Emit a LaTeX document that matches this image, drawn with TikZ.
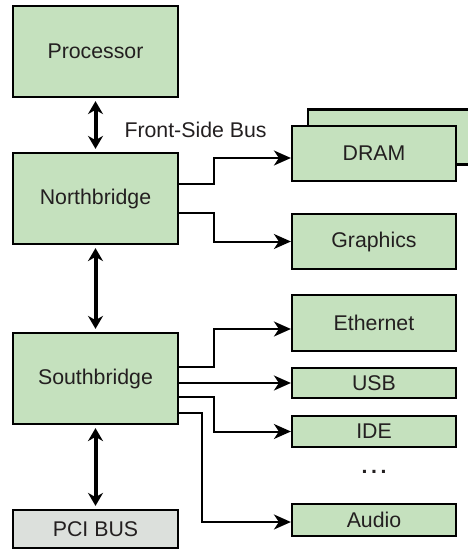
\documentclass[tikz,border=0pt]{standalone}
\usepackage{fontspec}
\setmainfont{Liberation Sans}
\usepackage{xcolor}
\usetikzlibrary{arrows.meta,calc}
\definecolor{boxgreen}{RGB}{197,225,190}
\definecolor{busgray}{RGB}{220,224,220}
\definecolor{txtgray}{RGB}{35,31,32}

\begin{document}
\begin{tikzpicture}[x=1pt,y=1pt,yscale=-1,xscale=1,
  box/.style={draw=black,line width=2.2pt,fill=boxgreen,text=txtgray,inner sep=0pt,font=\fontsize{21.3}{25}\selectfont},
  bigbox/.style={box,minimum width=165pt,minimum height=91pt},
  devbox/.style={box,minimum width=164pt},
  link/.style={line width=2pt,-{Stealth[length=17pt,width=15pt,inset=5pt]}},
  bus/.style={line width=4pt,{Stealth[length=13pt,width=15pt]}-{Stealth[length=13pt,width=15pt]},shorten <=3pt,shorten >=3pt}]
\useasboundingbox (0,0) rectangle (468,551);

%Shape: left column
\node[bigbox] (cpu) at (95.5,51.5) {Processor};
\node[bigbox] (nb) at (95.5,198.5) {Northbridge};
\node[bigbox] (sb) at (95.5,378.5) {Southbridge};
\node[bigbox,fill=busgray,minimum height=38pt] (pci) at (95.5,529) {PCI BUS};

%Shape: right column
\node[devbox,minimum height=55pt] (dramback) at (390,137) {};
\node[devbox,minimum height=55pt] (dram) at (374,153.5) {DRAM};
\node[devbox,minimum height=55pt] (gfx) at (374,241.5) {Graphics};
\node[devbox,minimum height=56pt] (eth) at (374,323) {Ethernet};
\node[devbox,minimum height=30pt] (usb) at (374,383) {USB};
\node[devbox,minimum height=31pt] (ide) at (374,431.5) {IDE};
\node[text=txtgray,font=\fontsize{21.3}{25}\bfseries] (dots) at (374,472) {.\,.\,.};
\node[devbox,minimum height=32pt] (audio) at (374,520) {Audio};

% Text Node
\node[anchor=west,text=txtgray,font=\fontsize{21.3}{25}\selectfont] (fsb) at (121,129.5) {Front-Side Bus};

%Straight Lines: buses
\draw[bus] (cpu.south) -- (nb.north);
\draw[bus] (nb.south) -- (sb.north);
\draw[bus] (sb.south) -- (pci.north);

%Straight Lines: links
\draw[link] ($(nb.east)+(0,-14.5)$) -- ++(35,0) |- ($(dram.west)+(0,4.5)$);
\draw[link] ($(nb.east)+(0,14.5)$) -- ++(35,0) |- (gfx.west);
\draw[link] ($(sb.east)+(0,-11.5)$) -- ++(35,0) |- ($(eth.west)+(0,6)$);
\draw[link] (sb.east |- usb.west) -- (usb.west);
\draw[link] ($(sb.east)+(0,18.5)$) -- ++(35,0) |- (ide.west);
\draw[link] ($(sb.east)+(0,34.5)$) -- ++(23,0) |- ($(audio.west)+(0,2)$);

\end{tikzpicture}
\end{document}
